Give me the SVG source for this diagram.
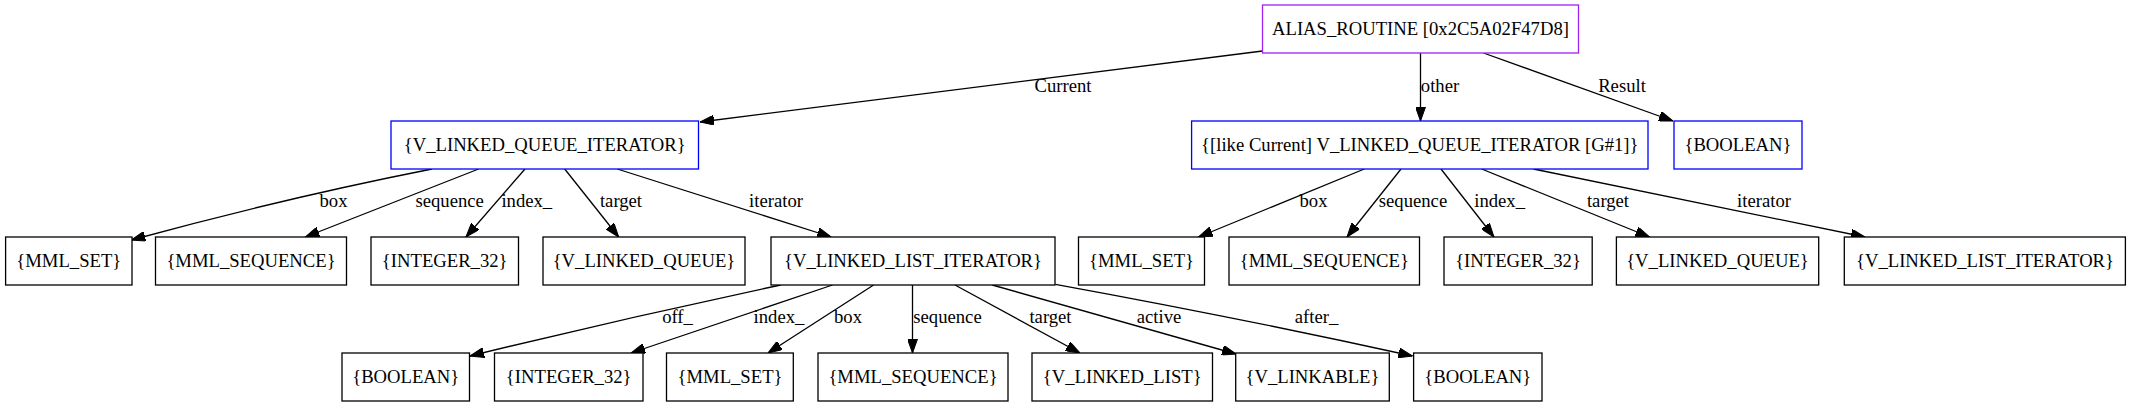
<svg xmlns="http://www.w3.org/2000/svg" width="2133" height="407" viewBox="0 0 2133 407">
<style>
text{font-family:"Liberation Serif","Times New Roman",serif;font-size:18.67px;fill:#000;text-anchor:middle}
.n{fill:#fff;stroke:#000;stroke-width:1.3}
.b{stroke:#0000ff}
.p{stroke:#a020f0}
.e{fill:none;stroke:#000;stroke-width:1.3;marker-end:url(#ah)}
</style>
<defs>
<marker id="ah" markerUnits="userSpaceOnUse" markerWidth="14" markerHeight="10" refX="14" refY="5" orient="auto">
<path d="M0,0 L14,5 L0,10 z" fill="#000" stroke="#000" stroke-width="1"/>
</marker>
</defs>
<rect width="2133" height="407" fill="#fff"/>
<g id="edges">
<path class="e" d="M1262.5,51 L700,122"/><text x="1063" y="92">Current</text>
<path class="e" d="M1420.5,53 L1420.5,121"/><text x="1440" y="92">other</text>
<path class="e" d="M1483.5,53 L1673,121"/><text x="1622" y="92">Result</text>

<path class="e" d="M432,169 Q285,198 131.4,240"/><text x="333.5" y="207">box</text>
<path class="e" d="M478.6,169 L305.4,237"/><text x="449.7" y="207">sequence</text>
<path class="e" d="M525,169 L466,237"/><text x="526.8" y="207">index_</text>
<path class="e" d="M564.7,169 L618.7,237"/><text x="621" y="207">target</text>
<path class="e" d="M617.3,169 L831.3,237"/><text x="776" y="207">iterator</text>

<path class="e" d="M1364.3,169 L1198.5,237"/><text x="1313.5" y="207">box</text>
<path class="e" d="M1401,169 L1347,237"/><text x="1413" y="207">sequence</text>
<path class="e" d="M1441,169 L1494,237"/><text x="1499.6" y="207">index_</text>
<path class="e" d="M1481.7,169 L1649.5,237"/><text x="1608" y="207">target</text>
<path class="e" d="M1533.5,169 L1865,237"/><text x="1764" y="207">iterator</text>

<path class="e" d="M780.7,285 Q625,318 470,356"/><text x="677.5" y="323">off_</text>
<path class="e" d="M832.5,285 L631,353"/><text x="779" y="323">index_</text>
<path class="e" d="M873.6,285 L768,353"/><text x="848" y="323">box</text>
<path class="e" d="M912.5,285 L912.5,353"/><text x="947.5" y="323">sequence</text>
<path class="e" d="M955,285 L1080,353"/><text x="1050.5" y="323">target</text>
<path class="e" d="M992.3,285 L1236,354"/><text x="1159" y="323">active</text>
<path class="e" d="M1055.4,284.3 Q1240,318 1412.5,356"/><text x="1316.6" y="323">after_</text>
</g>

<g id="alias_routine"><rect class="n p" x="1262.5" y="5" width="316" height="48"/><text x="1420.5" y="35">ALIAS_ROUTINE [0x2C5A02F47D8]</text></g>

<g id="vlqi"><rect class="n b" x="391" y="121" width="307.5" height="48"/><text x="544.7" y="151">{V_LINKED_QUEUE_ITERATOR}</text></g>
<g id="like_current"><rect class="n b" x="1191.6" y="121" width="456.4" height="48"/><text x="1419.8" y="151">{[like Current] V_LINKED_QUEUE_ITERATOR [G#1]}</text></g>
<g id="boolean_result"><rect class="n b" x="1674" y="121" width="128" height="48"/><text x="1738" y="151">{BOOLEAN}</text></g>

<g id="l_mml_set"><rect class="n" x="5.6" y="237" width="126.4" height="48"/><text x="68.8" y="267">{MML_SET}</text></g>
<g id="l_mml_sequence"><rect class="n" x="155.5" y="237" width="191" height="48"/><text x="251" y="267">{MML_SEQUENCE}</text></g>
<g id="l_integer_32"><rect class="n" x="371" y="237" width="147.5" height="48"/><text x="444.7" y="267">{INTEGER_32}</text></g>
<g id="l_v_linked_queue"><rect class="n" x="543" y="237" width="202" height="48"/><text x="644" y="267">{V_LINKED_QUEUE}</text></g>
<g id="l_vlli"><rect class="n" x="771" y="237" width="284" height="48"/><text x="913" y="267">{V_LINKED_LIST_ITERATOR}</text></g>

<g id="r_mml_set"><rect class="n" x="1078.5" y="237" width="126" height="48"/><text x="1141.5" y="267">{MML_SET}</text></g>
<g id="r_mml_sequence"><rect class="n" x="1229" y="237" width="190.5" height="48"/><text x="1324.3" y="267">{MML_SEQUENCE}</text></g>
<g id="r_integer_32"><rect class="n" x="1444" y="237" width="148.2" height="48"/><text x="1518" y="267">{INTEGER_32}</text></g>
<g id="r_v_linked_queue"><rect class="n" x="1616.4" y="237" width="202.3" height="48"/><text x="1717.5" y="267">{V_LINKED_QUEUE}</text></g>
<g id="r_vlli"><rect class="n" x="1844.3" y="237" width="281.1" height="48"/><text x="1985" y="267">{V_LINKED_LIST_ITERATOR}</text></g>

<g id="b_boolean_1"><rect class="n" x="342" y="353" width="127.5" height="48"/><text x="405.7" y="383">{BOOLEAN}</text></g>
<g id="b_integer_32"><rect class="n" x="494.5" y="353" width="148.5" height="48"/><text x="568.7" y="383">{INTEGER_32}</text></g>
<g id="b_mml_set"><rect class="n" x="666.5" y="353" width="126.8" height="48"/><text x="730" y="383">{MML_SET}</text></g>
<g id="b_mml_sequence"><rect class="n" x="818" y="353" width="190" height="48"/><text x="913" y="383">{MML_SEQUENCE}</text></g>
<g id="b_v_linked_list"><rect class="n" x="1032" y="353" width="180.5" height="48"/><text x="1122.2" y="383">{V_LINKED_LIST}</text></g>
<g id="b_v_linkable"><rect class="n" x="1235.7" y="353" width="153.6" height="48"/><text x="1312.5" y="383">{V_LINKABLE}</text></g>
<g id="b_boolean_2"><rect class="n" x="1413.6" y="353" width="128.4" height="48"/><text x="1477.8" y="383">{BOOLEAN}</text></g>
</svg>
